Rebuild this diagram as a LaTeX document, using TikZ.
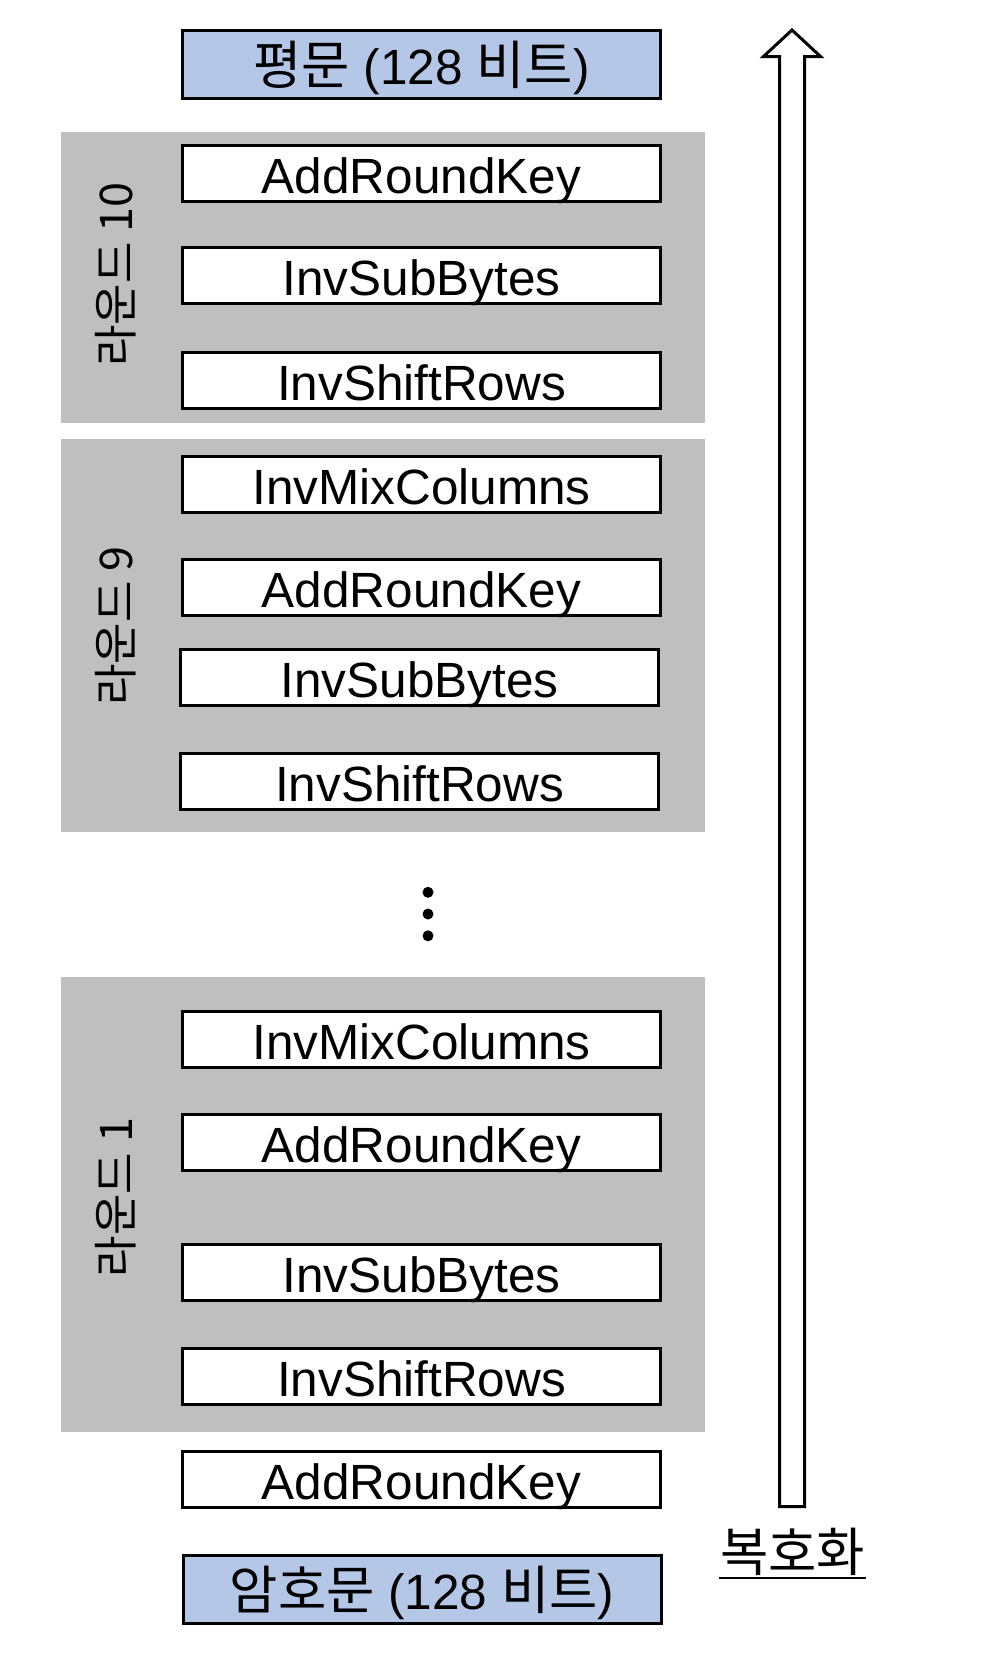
\documentclass[tikz,border=0pt]{standalone}
\usepackage{fontspec}
\setmainfont{Liberation Sans}
\newfontfamily\kr{Noto Sans CJK KR}
\definecolor{lightblue}{HTML}{B4C7E7}
\definecolor{roundgray}{HTML}{BFBFBF}
\newcommand{\krb}[1]{{\kr\fontsize{52.5}{56}\selectfont #1}}
\begin{document}
\begin{tikzpicture}[x=1pt,y=-1pt,
  opbox/.style={draw=black, line width=3pt, fill=white, minimum width=478pt,
    minimum height=56pt, inner sep=0pt, font=\fontsize{49.5}{55}\selectfont,
    text height=39.6pt, text depth=0pt},
  endbox/.style={opbox, fill=lightblue, minimum height=68pt},
  roundbg/.style={fill=roundgray, inner sep=0pt, minimum width=644.4pt},
  roundlabel/.style={rotate=90, font=\kr\fontsize{45}{48}\selectfont, inner sep=0pt},
  dotnode/.style={circle, fill=black, inner sep=0pt, minimum size=11pt}]
\useasboundingbox[fill=white] (0,0) rectangle (1000,1668);

% round backgrounds
\node[roundbg, minimum height=291pt] (g10) at (382.8,277.5) {};
\node[roundbg, minimum height=393pt] (g9) at (382.8,635) {};
\node[roundbg, minimum height=455.5pt] (g1) at (382.8,1204.3) {};

% round labels
\node[roundlabel] (l10) at (116,274.5) {라운드 10};
\node[roundlabel] (l9) at (116,626) {라운드 9};
\node[roundlabel] (l1) at (116,1197.5) {라운드 1};

% plaintext
\node[endbox] (p) at (421.5,64.4) {\krb{평문} (128 \krb{비트})};

% round 10
\node[opbox] (r10a) at (421.5,173.5) {AddRoundKey};
\node[opbox] (r10b) at (421.5,275.5) {InvSubBytes};
\node[opbox] (r10c) at (421.5,380.8) {InvShiftRows};

% round 9
\node[opbox] (r9a) at (421.5,484.5) {InvMixColumns};
\node[opbox] (r9b) at (421.5,587.6) {AddRoundKey};
\node[opbox] (r9c) at (419.5,677.8) {InvSubBytes};
\node[opbox] (r9d) at (419.5,781.4) {InvShiftRows};

% dots
\node[dotnode] (d1) at (428,892.3) {};
\node[dotnode] (d2) at (428,914) {};
\node[dotnode] (d3) at (428,935.8) {};

% round 1
\node[opbox] (r1a) at (421.5,1039.3) {InvMixColumns};
\node[opbox] (r1b) at (421.5,1142.5) {AddRoundKey};
\node[opbox] (r1c) at (421.5,1272.8) {InvSubBytes};
\node[opbox] (r1d) at (421.5,1376.5) {InvShiftRows};

% final AddRoundKey
\node[opbox] (ark0) at (421.5,1479.2) {AddRoundKey};

% ciphertext
\node[endbox] (c) at (422,1589.9) {\krb{암호문} (128 \krb{비트})};

% decryption arrow
\draw[line width=3pt, fill=white, miter limit=10]
  (792,30) -- (820.5,56.5) -- (804.5,56.5) -- (804.5,1506.5)
  -- (779.5,1506.5) -- (779.5,56.5) -- (763.5,56.5) -- cycle;

% label with underline
\node[anchor=base, inner sep=0pt, font=\kr\fontsize{52.5}{56}\selectfont] (dec) at (792.5,1571) {복호화};
\draw[line width=2.5pt] ([yshift=-7pt,xshift=-1pt]dec.base west) -- ([yshift=-7pt,xshift=1pt]dec.base east);
\end{tikzpicture}
\end{document}
